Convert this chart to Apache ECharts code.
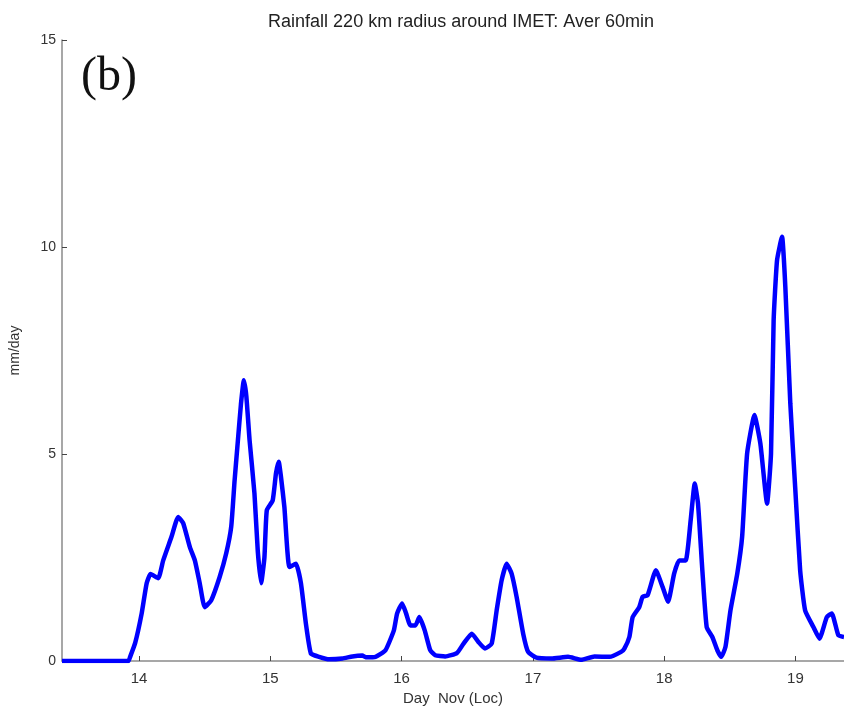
<!DOCTYPE html>
<html>
<head>
<meta charset="utf-8">
<script src="https://cdn.jsdelivr.net/npm/echarts@6/dist/echarts.min.js"></script>
<style>html,body{margin:0;padding:0;background:#fff}#c{width:844px;height:713px}</style>
</head>
<body>
<div id="c"></div>
<script>
var titleText = 'Rainfall 220 km radius around IMET: Aver 60min';
var panelLabel = '(b)';
var xName = 'Day  Nov (Loc)';
var yName = 'mm/day';
var xTicks = [14, 15, 16, 17, 18, 19];
var yTicks = [0, 5, 10, 15];
var days = [13.413, 13.880, 13.919, 13.932, 13.970, 14.020, 14.058, 14.088, 14.146, 14.184,
  14.247, 14.298, 14.336, 14.387, 14.425, 14.462, 14.500, 14.550, 14.614, 14.664,
  14.702, 14.728, 14.753, 14.776, 14.798, 14.817, 14.842, 14.879, 14.904, 14.930,
  14.955, 14.973, 15.018, 15.043, 15.064, 15.081, 15.107, 15.145, 15.195, 15.233,
  15.271, 15.309, 15.372, 15.448, 15.549, 15.625, 15.701, 15.726, 15.801, 15.877,
  15.941, 15.966, 16.004, 16.034, 16.067, 16.105, 16.135, 16.176, 16.218, 16.256,
  16.332, 16.421, 16.472, 16.535, 16.585, 16.635, 16.686, 16.724, 16.762, 16.800,
  16.838, 16.876, 16.926, 16.964, 17.027, 17.141, 17.268, 17.368, 17.469, 17.583,
  17.672, 17.697, 17.735, 17.760, 17.810, 17.836, 17.874, 17.937, 17.988, 18.030,
  18.076, 18.114, 18.164, 18.202, 18.233, 18.258, 18.291, 18.324, 18.367, 18.405,
  18.435, 18.467, 18.505, 18.557, 18.594, 18.632, 18.688, 18.733, 18.784, 18.814,
  18.834, 18.860, 18.898, 18.923, 18.961, 18.998, 19.036, 19.074, 19.137, 19.183,
  19.239, 19.277, 19.327, 19.370];
var rain = [0, 0, 0, 0.1, 0.43, 1.15, 1.88, 2.1, 2.0, 2.43,
  3.0, 3.48, 3.33, 2.75, 2.43, 1.88, 1.3, 1.47, 2.03, 2.6,
  3.24, 4.37, 5.33, 6.2, 6.78, 6.4, 5.33, 4.05, 2.67, 1.88,
  2.5, 3.64, 3.88, 4.53, 4.81, 4.45, 3.72, 2.27, 2.35, 1.88,
  0.9, 0.18, 0.1, 0.04, 0.06, 0.11, 0.13, 0.09, 0.1, 0.26,
  0.74, 1.15, 1.39, 1.15, 0.86, 0.86, 1.06, 0.74, 0.26, 0.14,
  0.11, 0.19, 0.42, 0.66, 0.46, 0.3, 0.42, 1.22, 1.95, 2.35,
  2.11, 1.55, 0.66, 0.22, 0.08, 0.06, 0.1, 0.03, 0.11, 0.1,
  0.22, 0.3, 0.58, 1.06, 1.3, 1.55, 1.59, 2.19, 1.79, 1.43,
  2.11, 2.43, 2.43, 3.4, 4.29, 3.8, 2.19, 0.82, 0.58, 0.26,
  0.1, 0.34, 1.22, 2.11, 3.0, 5.01, 5.94, 5.25, 3.8, 5.01,
  8.23, 9.68, 10.25, 9.04, 6.22, 4.2, 2.19, 1.22, 0.82, 0.54,
  1.06, 1.15, 0.62, 0.58];

var data = days.map(function (d, i) { return [d, rain[i]]; });
var axisGray = '#8a8a8a';
var font = 'Liberation Sans, Arial, Helvetica, sans-serif';

var chart = echarts.init(document.getElementById('c'), null, {renderer: 'canvas'});
chart.setOption({
  animation: false,
  backgroundColor: '#fff',
  title: {
    text: titleText,
    left: 456, top: 8, textAlign: 'center',
    textStyle: {fontFamily: font, fontSize: 18, fontWeight: 'normal', color: '#222'}
  },
  graphic: [{
    type: 'text', left: 81, top: 53,
    style: {text: panelLabel, font: '48px "Liberation Serif", "DejaVu Serif", serif', fill: '#111'}
  }],
  grid: {left: 58, right: 0, top: 40, bottom: 52, containLabel: false},
  xAxis: {
    type: 'value', min: 13.413, max: 19.37,
    name: xName, nameLocation: 'middle', nameGap: 26,
    nameTextStyle: {fontFamily: font, fontSize: 15, color: '#333'},
    axisLine: {show: true, onZero: false, lineStyle: {color: axisGray, width: 1.5}},
    axisTick: {show: true, inside: true, length: 5, customValues: xTicks, lineStyle: {color: '#444'}},
    axisLabel: {customValues: xTicks, fontFamily: font, fontSize: 15, color: '#333', margin: 10},
    splitLine: {show: false}
  },
  yAxis: {
    type: 'value', min: 0, max: 15, interval: 5,
    name: yName, nameLocation: 'middle', nameGap: 40, nameRotate: 90,
    nameTextStyle: {fontFamily: font, fontSize: 14, color: '#333'},
    axisLine: {show: true, lineStyle: {color: axisGray, width: 1.5}},
    axisTick: {show: true, inside: true, length: 5, lineStyle: {color: '#444'}},
    axisLabel: {fontFamily: font, fontSize: 14, color: '#333', margin: 6},
    splitLine: {show: false}
  },
  series: [{
    type: 'line', data: data, showSymbol: false, smooth: 0.15,
    lineStyle: {color: '#0000ff', width: 4.5},
    clip: true
  }]
});
</script>
</body>
</html>
